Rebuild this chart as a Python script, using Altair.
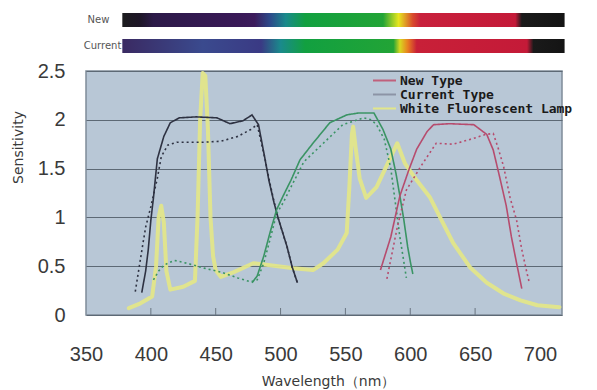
import altair as alt
import pandas as pd
import numpy as np

# ---------------- data ----------------
blue_new_wl = [393, 396, 398, 400, 402, 405, 410, 415, 422, 435, 451, 456, 461, 471, 478, 483, 488, 491, 495, 498, 505, 509, 513]
blue_new_s = [0.23, 0.45, 0.67, 0.97, 1.2, 1.6, 1.83, 1.97, 2.02, 2.03, 2.02, 1.99, 1.96, 1.99, 2.05, 1.95, 1.6, 1.38, 1.15, 1.0, 0.7, 0.49, 0.33]

blue_cur_wl = [388, 391, 394, 396, 400, 405, 408, 413, 420, 428, 440, 454, 467, 477, 482, 488, 491, 495, 498, 505, 509, 513]
blue_cur_s = [0.24, 0.49, 0.74, 0.9, 1.11, 1.4, 1.62, 1.74, 1.77, 1.77, 1.77, 1.78, 1.83, 1.9, 1.95, 1.6, 1.4, 1.16, 1.0, 0.7, 0.49, 0.33]

green_new_wl = [478, 482, 487, 492, 497, 502, 508, 515, 525, 538, 551, 560, 572, 579, 585, 589, 592, 595, 598, 600, 602]
green_new_s = [0.33, 0.4, 0.6, 0.85, 1.08, 1.22, 1.38, 1.59, 1.76, 1.97, 2.05, 2.07, 2.07, 1.9, 1.7, 1.45, 1.22, 0.98, 0.7, 0.55, 0.42]

green_cur_wl = [402, 406, 410, 418, 428, 441, 454, 467, 477, 482, 487, 492, 497, 502, 508, 518, 533, 548, 564, 570, 574, 580, 585, 589, 592, 595, 597]
green_cur_s = [0.36, 0.45, 0.51, 0.56, 0.53, 0.48, 0.44, 0.38, 0.34, 0.36, 0.53, 0.78, 1.04, 1.15, 1.31, 1.57, 1.76, 1.95, 2.02, 2.0, 1.95, 1.8, 1.5, 1.1, 0.8, 0.55, 0.38]

red_new_wl = [577, 585, 592, 599, 605, 613, 618, 630, 649, 659, 664, 669, 674, 678, 682, 686]
red_new_s = [0.46, 0.8, 1.22, 1.49, 1.7, 1.88, 1.95, 1.96, 1.95, 1.85, 1.69, 1.41, 1.12, 0.8, 0.53, 0.27]

red_cur_wl = [582, 590, 597, 608, 613, 620, 633, 649, 658, 664, 668, 672, 677, 682, 686, 690, 692]
red_cur_s = [0.37, 0.9, 1.28, 1.52, 1.62, 1.76, 1.75, 1.81, 1.85, 1.86, 1.7, 1.52, 1.2, 0.97, 0.67, 0.43, 0.32]

lamp_wl = [383, 392, 401, 404, 406, 408, 410, 412, 415, 425, 434, 436, 438, 440, 442, 444, 446, 448, 450, 454, 464, 479, 492, 510, 525, 533, 544, 551, 553, 555, 556, 558, 561, 566, 574, 585, 590, 596, 605, 615, 623, 633, 646, 659, 672, 685, 698, 715]
lamp_s = [0.07, 0.12, 0.19, 0.5, 1.0, 1.12, 0.95, 0.45, 0.26, 0.29, 0.35, 1.0, 2.0, 2.48, 2.45, 1.9, 1.0, 0.6, 0.46, 0.39, 0.44, 0.53, 0.51, 0.48, 0.46, 0.53, 0.67, 0.84, 1.3, 1.85, 1.93, 1.7, 1.4, 1.2, 1.31, 1.62, 1.76, 1.55, 1.38, 1.21, 1.0, 0.74, 0.49, 0.33, 0.22, 0.15, 0.1, 0.08]

series_names = ["Blue New", "Blue Current", "Green New", "Green Current", "Red New", "Red Current"]
series_colors = ["#2e3242", "#2e3242", "#3a9464", "#3a9464", "#b64c6e", "#b64c6e"]
kinds = ["New", "Current"]
dash_styles = [[1, 0], [2, 3]]

legend_labels = ["New Type", "Current Type", "White Fluorescent Lamp"]
legend_colors = ["#c0607c", "#8c94a6", "#e2e68a"]

x_ticks = [350, 400, 450, 500, 550, 600, 650, 700]
inner_ticks = [400, 450, 500, 550, 600, 650]
y_ticks = [0, 0.5, 1, 1.5, 2, 2.5]

# spectrum bars (wavelength positions of colour stops)
spec_start, spec_end = 378, 719
new_stop_wl = [378, 392, 402, 470, 480, 492, 504, 519, 579, 591, 602, 608, 681, 686, 719]
new_stop_col = ["#1c1c1e", "#1e1628", "#2c1a48", "#3a1a58", "#3c1c5c", "#2d4a8a", "#1a8a8c", "#12a040", "#22a436", "#e6e61e", "#d84a2c", "#c8203c", "#c41a38", "#1a1a1a", "#141414"]
cur_stop_wl = [378, 440, 485, 500, 519, 587, 592, 598, 605, 690, 695, 719]
cur_stop_col = ["#3a2a62", "#3a4a8e", "#3a3a84", "#1a8a8c", "#12a040", "#22a436", "#d8d820", "#e88020", "#c82038", "#c41a38", "#1a1a1a", "#141414"]

# ---------------- build tables ----------------
all_wl = [blue_new_wl, blue_cur_wl, green_new_wl, green_cur_wl, red_new_wl, red_cur_wl]
all_s = [blue_new_s, blue_cur_s, green_new_s, green_cur_s, red_new_s, red_cur_s]
rows = []
for i, (name, wls, ss) in enumerate(zip(series_names, all_wl, all_s)):
    for w, v in zip(wls, ss):
        rows.append({"wl": w, "s": v, "series": name, "kind": kinds[i % 2]})
df = pd.DataFrame(rows)
lamp_df = pd.DataFrame({"wl": lamp_wl, "s": lamp_s})
leg_df = pd.DataFrame({"entry": legend_labels, "wl": [np.nan] * 3, "s": [np.nan] * 3})
tick_df = pd.DataFrame({"wl": inner_ticks})
bar_df = pd.DataFrame({"start": [spec_start], "end": [spec_end]})

W, H = 476, 244
xscale = alt.Scale(domain=[350, 717], nice=False, zero=False)
yscale = alt.Scale(domain=[0, 2.5], nice=False)

x_enc = alt.X("wl:Q", scale=xscale, axis=alt.Axis(
    values=x_ticks, title="Wavelength（nm）", grid=False, domain=False, ticks=False,
    labelFontSize=20, labelFont="Liberation Sans", labelColor="#3a3a3a", labelPadding=29,
    labelFlush=False, titleFont="DejaVu Sans", titleFontSize=14, titleFontWeight="normal",
    titleColor="#3a3a3a", titleX=242, titleY=70, titleBaseline="alphabetic", titleAlign="center"))
y_enc = alt.Y("s:Q", scale=yscale, axis=alt.Axis(
    values=y_ticks, format="~g", title="Sensitivity", grid=True, gridColor="#5d6975",
    gridWidth=1.2, domain=False, ticks=False, labelFontSize=20, labelFont="Liberation Sans",
    labelColor="#3a3a3a", labelPadding=21, titleFont="DejaVu Sans", titleFontSize=14,
    titleFontWeight="normal", titleColor="#3a3a3a", titleX=-68, titleY=76, titleAngle=270,
    titleAlign="center", titleBaseline="middle"))

lamp = alt.Chart(lamp_df).mark_line(color="#e2e68a", strokeWidth=4, opacity=0.95,
                                     strokeCap="round", strokeJoin="round").encode(x=x_enc, y=y_enc)

sensors = alt.Chart(df).mark_line(strokeWidth=1.6).encode(
    x=alt.X("wl:Q", scale=xscale),
    y=alt.Y("s:Q", scale=yscale),
    color=alt.Color("series:N", scale=alt.Scale(domain=series_names, range=series_colors), legend=None),
    strokeDash=alt.StrokeDash("kind:N", scale=alt.Scale(domain=kinds, range=dash_styles), legend=None),
)

legend_layer = alt.Chart(leg_df).mark_line().encode(
    x=alt.X("wl:Q", scale=xscale),
    y=alt.Y("s:Q", scale=yscale),
    color=alt.Color("entry:N", scale=alt.Scale(domain=legend_labels, range=legend_colors),
                    legend=alt.Legend(title=None, orient="none", legendX=292, legendY=3,
                                      symbolType="M-2.3,0L2.3,0", symbolSize=100,
                                      symbolStrokeWidth=2, labelFont="DejaVu Sans Mono",
                                      labelFontWeight="bold", labelFontSize=13,
                                      labelColor="#1a1a1a", labelOffset=9, rowPadding=-1,
                                      labelLimit=400, padding=0)),
)

ticks = alt.Chart(tick_df).mark_rule(color="#6a7682", strokeWidth=1).encode(
    x=alt.X("wl:Q", scale=xscale), y=alt.value(H - 7), y2=alt.value(H))

def grad(stop_wl, stop_col):
    span = stop_wl[-1] - stop_wl[0]
    return alt.Gradient(gradient="linear", x1=0, x2=1, y1=0, y2=0,
                        stops=[alt.GradientStop(offset=(w - stop_wl[0]) / span, color=c)
                               for w, c in zip(stop_wl, stop_col)])

bar_new = alt.Chart(bar_df).mark_rect(color=grad(new_stop_wl, new_stop_col)).encode(
    x=alt.X("start:Q", scale=xscale), x2="end:Q", y=alt.value(-58), y2=alt.value(-44))
bar_cur = alt.Chart(bar_df).mark_rect(color=grad(cur_stop_wl, cur_stop_col)).encode(
    x=alt.X("start:Q", scale=xscale), x2="end:Q", y=alt.value(-32), y2=alt.value(-18))

lbl_new = alt.Chart(bar_df).mark_text(text="New", align="right", baseline="middle", dx=-13,
                                      font="DejaVu Sans", fontSize=10, color="#555555").encode(
    x=alt.X("start:Q", scale=xscale), y=alt.value(-51))
lbl_cur = alt.Chart(bar_df).mark_text(text="Current", align="right", baseline="middle", dx=-1,
                                      font="DejaVu Sans", fontSize=10, color="#555555").encode(
    x=alt.X("start:Q", scale=xscale), y=alt.value(-25))

chart = alt.layer(lamp, sensors, legend_layer, ticks, bar_new, bar_cur, lbl_new, lbl_cur).resolve_scale(
    color="independent", strokeDash="independent"
).properties(
    width=W, height=H,
    autosize=alt.AutoSizeParams(type="none"),
    padding={"left": 86, "top": 71, "right": 35, "bottom": 75},
    background="white",
).configure_view(fill="#b8c7d6", stroke="#7f8c99", strokeWidth=1.5)

chart.save("out.html", embed_options={"renderer": "svg", "actions": False})
